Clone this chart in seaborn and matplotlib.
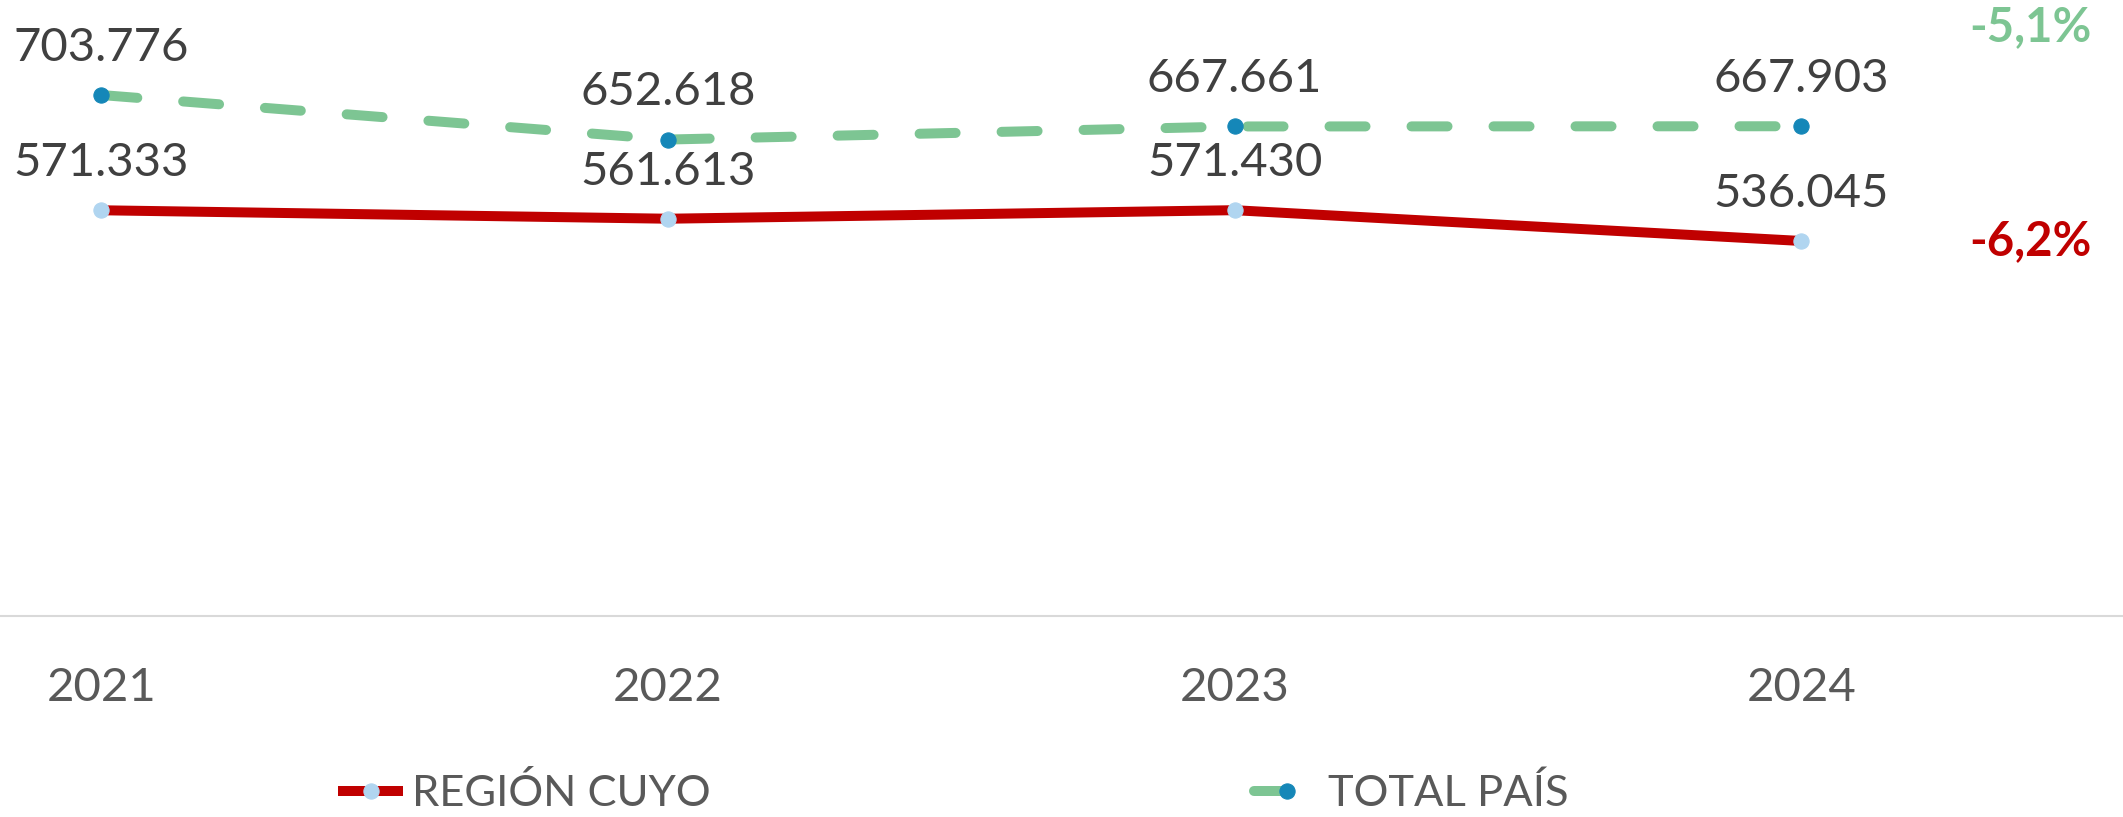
import matplotlib
matplotlib.use("Agg")
import matplotlib.pyplot as plt
import seaborn as sns
import pandas as pd

# datos
years = ["2021", "2022", "2023", "2024"]
region_cuyo = [571333, 561613, 571430, 536045]
total_pais = [703776, 652618, 667661, 667903]
series_names = ["REGIÓN CUYO", "TOTAL PAÍS"]
var_labels = ["-6,2%", "-5,1%"]

RED = "#C00000"
GREEN = "#7DC593"
LIGHTBLUE = "#B0D5F0"
DARKBLUE = "#1587B8"
TXT = "#404040"
TICK = "#595959"

sns.set_theme(style="white")
plt.rcParams["font.family"] = ["Lato", "DejaVu Sans"]

pos = list(range(len(years)))
df_cuyo = pd.DataFrame({"pos": pos, "valor": region_cuyo})
df_pais = pd.DataFrame({"pos": pos, "valor": total_pais})

fig = plt.figure(figsize=(21.23, 8.17), dpi=100)
ax = fig.add_axes([0, 0.246, 1, 0.754])

sns.lineplot(data=df_pais, x="pos", y="valor", ax=ax, color=GREEN, lw=7.2,
             marker="o", markersize=11, markerfacecolor=DARKBLUE,
             markeredgecolor=DARKBLUE, label=series_names[1], zorder=3)
sns.lineplot(data=df_cuyo, x="pos", y="valor", ax=ax, color=RED, lw=7.2,
             marker="o", markersize=11, markerfacecolor=LIGHTBLUE,
             markeredgecolor=LIGHTBLUE, label=series_names[0], zorder=3)

l_pais, l_cuyo = ax.get_lines()[:2]
l_pais.set_dashes((3.6, 4.6))
l_pais.set_dash_capstyle("round")
l_cuyo.set_solid_capstyle("butt")

# etiquetas de datos
fmt = lambda v: f"{v:,}".replace(",", ".")
for serie in (region_cuyo, total_pais):
    for x, v in zip(pos, serie):
        ax.annotate(fmt(v), (x, v), xytext=(0, 34), textcoords="offset points",
                    ha="center", va="center", fontsize=34, color=TXT)

# variaciones
fig.text(0.985, 1 - 241 / 817, var_labels[0], ha="right", va="center",
         fontsize=34, fontweight="bold", color=RED)
fig.text(0.985, 1 - 27 / 817, var_labels[1], ha="right", va="center",
         fontsize=34, fontweight="bold", color=GREEN)

ax.set_xlim(-0.179, 3.568)
ax.set_ylim(105000, 813000)
ax.set_xticks(pos)
ax.set_xticklabels(years, fontsize=34, color=TICK)
ax.set_yticks([])
ax.set_xlabel("")
ax.set_ylabel("")
ax.tick_params(axis="x", length=0, pad=37)
for s in ["top", "left", "right"]:
    ax.spines[s].set_visible(False)
ax.spines["bottom"].set_color("#D9D9D9")
ax.spines["bottom"].set_linewidth(1.5)

ax.get_legend().remove()
handles = [l_cuyo, l_pais]
fig.legend(handles, series_names, loc="center", bbox_to_anchor=(0.449, 0.029),
           ncol=2, frameon=False, fontsize=31.3, handlelength=1.5,
           handletextpad=0.2, columnspacing=12.5, labelcolor=TICK)

fig.savefig("out.png", dpi=100)
